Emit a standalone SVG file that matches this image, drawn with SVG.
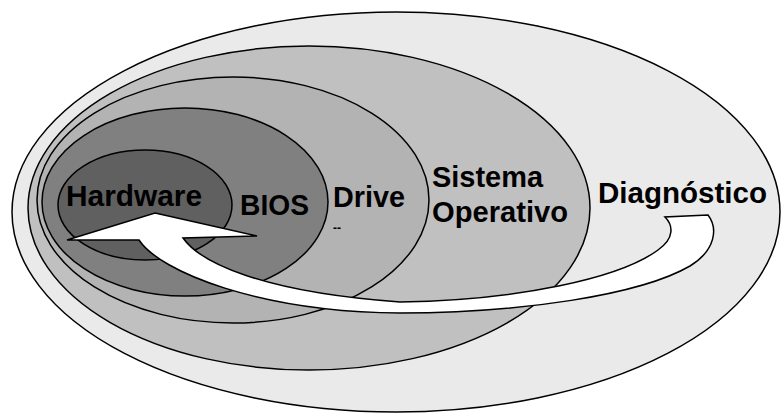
<svg xmlns="http://www.w3.org/2000/svg" width="782" height="413" viewBox="0 0 782 413">
<style>
.ring{stroke:#000;stroke-width:1.5}
.lbl{font-family:"Liberation Sans",Arial,sans-serif;font-weight:bold;font-size:29px;fill:#000}
.arrow{fill:#fff;stroke:#000;stroke-width:1.5;stroke-linejoin:miter}
</style>
<rect width="782" height="413" fill="#fff"/>
<g id="diagnostico">
<ellipse class="ring" cx="396" cy="212" rx="384" ry="200" fill="#EAEAEA"/>
</g>
<g id="sistema-operativo">
<ellipse class="ring" cx="309" cy="208" rx="281" ry="162" fill="#C0C0C0"/>
</g>
<g id="drive">
<ellipse class="ring" cx="233" cy="200" rx="196" ry="123" fill="#B3B3B3"/>
</g>
<g id="bios">
<ellipse class="ring" cx="185" cy="202" rx="143" ry="94" fill="#808080"/>
</g>
<g id="hardware">
<ellipse class="ring" cx="145" cy="205" rx="87" ry="55" fill="#606060"/>
</g>
<g id="labels">
<text class="lbl" x="66" y="206" textLength="136" lengthAdjust="spacingAndGlyphs">Hardware</text>
<text class="lbl" x="240" y="215" textLength="69" lengthAdjust="spacingAndGlyphs">BIOS</text>
<text class="lbl" x="333" y="207" textLength="72" lengthAdjust="spacingAndGlyphs">Drive</text>
<text class="lbl" x="432" y="187" textLength="111" lengthAdjust="spacingAndGlyphs">Sistema</text>
<text class="lbl" x="432" y="222" textLength="136" lengthAdjust="spacingAndGlyphs">Operativo</text>
<text class="lbl" x="598" y="203" textLength="169" lengthAdjust="spacingAndGlyphs">Diagnóstico</text>
<text x="333" y="232" font-family="Liberation Sans, Arial, sans-serif" font-size="12" font-weight="bold" fill="#000">--</text>
</g>
<g id="connectors">
<path class="arrow" d="M155,213 L257,236 L183,238 C200,262 260,292 400,302 C520,300 620,278 658,250 C675,238 673,225 665,217 L708,215 C718,228 716,250 690,266 C640,295 520,313 400,313 C260,312 160,272 139,240 L67,240 Z"/>
</g>
</svg>
